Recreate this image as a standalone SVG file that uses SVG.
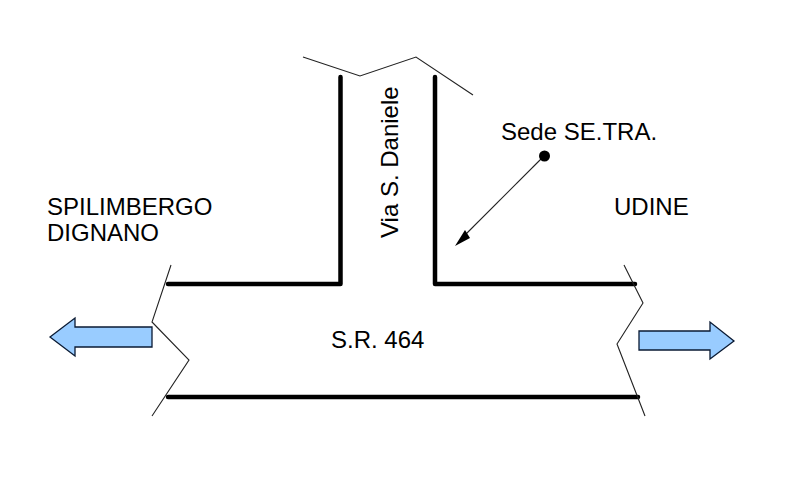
<svg xmlns="http://www.w3.org/2000/svg" width="794" height="500" viewBox="0 0 794 500">
<style>
text{font-family:"Liberation Sans",Arial,sans-serif;font-size:24px;fill:#000}
.thin{fill:none;stroke:#222;stroke-width:1.1}
.road{fill:none;stroke:#000;stroke-width:4.5;stroke-linejoin:round;stroke-linecap:round}
.blue{fill:#99ccff;stroke:#0a1a33;stroke-width:1.3;stroke-linejoin:miter}
</style>
<rect width="794" height="500" fill="#fff"/>
<g id="connectors">
<path id="road-left" class="road" d="M168 284H340.500V77"/>
<path id="road-right" class="road" d="M435 77V284H635"/>
<path id="road-bottom" class="road" d="M168 397H638"/>
<polyline id="break-top" class="thin" points="303,57 360,76 416,57 473,95"/>
<polyline id="break-left" class="thin" points="171,265 152,322 189,360 152,416"/>
<polyline id="break-right" class="thin" points="624,265 643,303 617,344 645,416"/>
<line id="pointer" x1="544" y1="156" x2="462" y2="238" stroke="#222" stroke-width="1.1"/>
<polygon id="pointer-head" points="455,246 465,230 470,238" fill="#000"/>
</g>
<g id="dot"><circle cx="544.500" cy="156" r="5.500" fill="#000"/></g>
<g id="arrow-left"><polygon class="blue" points="50,337 75,318 75,327 152,327 152,347 75,347 75,356"/></g>
<g id="arrow-right"><polygon class="blue" points="734,341 710,322 710,331 639,331 639,350 710,350 710,359"/></g>
<g id="label-spilimbergo"><text x="47" y="215">SPILIMBERGO</text><text x="47" y="241">DIGNANO</text></g>
<g id="label-udine"><text x="614" y="215">UDINE</text></g>
<g id="label-sede"><text x="501" y="140">Sede SE.TRA.</text></g>
<g id="label-via"><text transform="translate(398 238) rotate(-90)">Via S. Daniele</text></g>
<g id="label-sr"><text x="331" y="348">S.R. 464</text></g>
</svg>
